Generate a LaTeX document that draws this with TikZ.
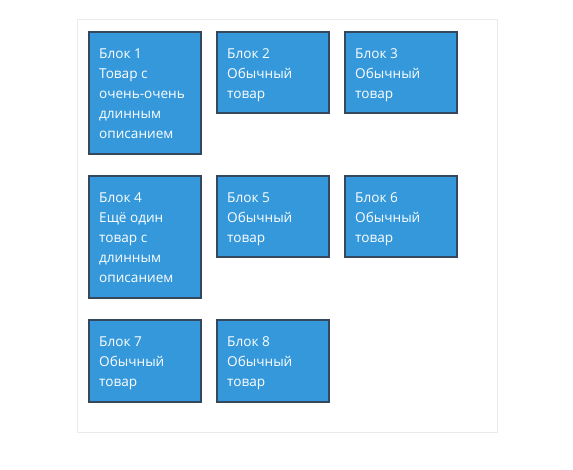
\documentclass[tikz,border=0pt]{standalone}
\usepackage{fontspec}
\setmainfont{Open Sans}
\definecolor{blockfill}{HTML}{3498DB}
\definecolor{blockline}{HTML}{34495E}
\definecolor{frameline}{HTML}{EBEBEB}
\begin{document}
\begin{tikzpicture}[x=1pt,y=-1pt,
  blockbox/.style={draw=blockline,line width=2pt,fill=blockfill,inner sep=0pt,anchor=north west,minimum width=112pt},
  blocktext/.style={text=white,anchor=north west,inner sep=0pt,align=left,font=\fontsize{13.6}{20}\selectfont},
  framebox/.style={draw=frameline,line width=1pt,fill=white}]
\useasboundingbox[fill=white] (0,0) rectangle (573,469);
\node[framebox,inner sep=0pt,minimum width=420pt,minimum height=413pt,anchor=north west] (frame) at (77,19) {};
% row 1
\node[blockbox,minimum height=122pt] (b1) at (88,31) {};
\node[blockbox,minimum height=81pt] (b2) at (216,31) {};
\node[blockbox,minimum height=81pt] (b3) at (344,31) {};
% row 2
\node[blockbox,minimum height=122pt] (b4) at (88,175) {};
\node[blockbox,minimum height=81pt] (b5) at (216,175) {};
\node[blockbox,minimum height=81pt] (b6) at (344,175) {};
% row 3
\node[blockbox,minimum height=82pt] (b7) at (88,319) {};
\node[blockbox,minimum height=82pt] (b8) at (216,319) {};
% texts
\node[blocktext] (t1) at ([shift={(11pt,-13pt)}]b1.north west) {\strut Блок 1\\Товар с\\очень-очень\\длинным\\описанием};
\node[blocktext] (t2) at ([shift={(11pt,-13pt)}]b2.north west) {\strut Блок 2\\Обычный\\товар};
\node[blocktext] (t3) at ([shift={(11pt,-13pt)}]b3.north west) {\strut Блок 3\\Обычный\\товар};
\node[blocktext] (t4) at ([shift={(11pt,-13pt)}]b4.north west) {\strut Блок 4\\Ещё один\\товар с\\длинным\\описанием};
\node[blocktext] (t5) at ([shift={(11pt,-13pt)}]b5.north west) {\strut Блок 5\\Обычный\\товар};
\node[blocktext] (t6) at ([shift={(11pt,-13pt)}]b6.north west) {\strut Блок 6\\Обычный\\товар};
\node[blocktext] (t7) at ([shift={(11pt,-13pt)}]b7.north west) {\strut Блок 7\\Обычный\\товар};
\node[blocktext] (t8) at ([shift={(11pt,-13pt)}]b8.north west) {\strut Блок 8\\Обычный\\товар};
\end{tikzpicture}
\end{document}
